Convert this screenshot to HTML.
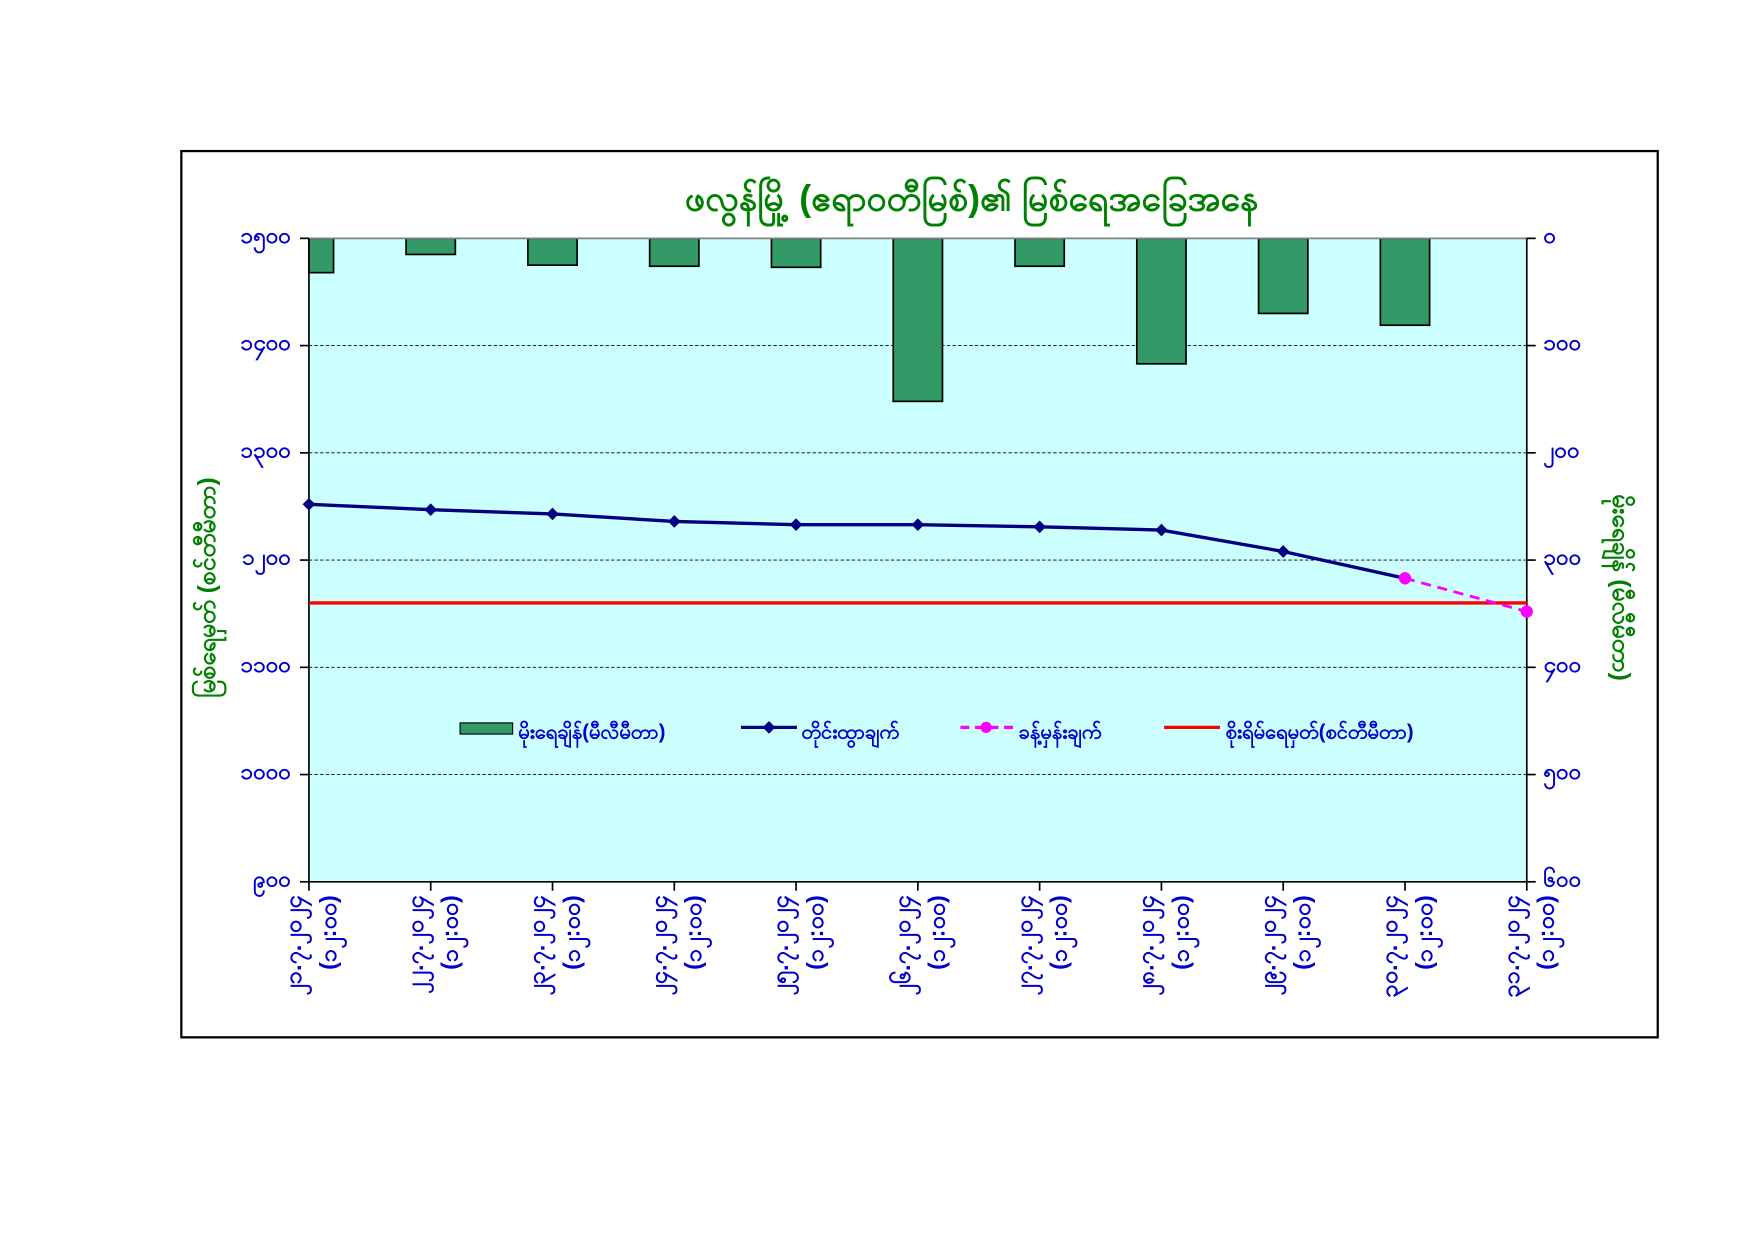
<!DOCTYPE html>
<html><head><meta charset="utf-8"><style>
html,body{margin:0;padding:0;background:#fff;}
svg{display:block;}
text{font-family:"Liberation Sans","Noto Sans CJK SC",sans-serif;}
</style></head><body>
<svg id="chart" width="1754" height="1241" viewBox="0 0 1567 1109" preserveAspectRatio="none" xmlns="http://www.w3.org/2000/svg">
<rect x="162" y="135" width="1319" height="792" fill="#fff" stroke="#000" stroke-width="2"/>
<rect x="276" y="213" width="1088" height="575" fill="#ccffff"/>
<g id="grid"></g>
<g id="bars"></g>
<g id="axes"></g>
<g id="lines"></g>
<text x="868" y="188" text-anchor="middle" font-size="32" font-weight="bold" fill="#008000">ဖလွန်မြို့ (ဧရာဝတီမြစ်)၏ မြစ်ရေအခြေအနေ</text>
<text transform="translate(192,525) rotate(-90)" text-anchor="middle" font-size="22" font-weight="bold" fill="#008000">မြစ်ရေမှတ် (စင်တီမီတာ)</text>
<text transform="translate(1441,525) rotate(90)" text-anchor="middle" font-size="22" font-weight="bold" fill="#008000">မိုးရေချိန် (မီလီမီတာ)</text>
<g font-size="18" font-weight="bold" fill="#0000cc">
<rect x="411" y="646" width="47" height="10" fill="#339966" stroke="#000"/>
<text x="463" y="660">မိုးရေချိန်(မီလီမီတာ)</text>
<line x1="662" y1="650" x2="712" y2="650" stroke="#000080" stroke-width="3"/>
<rect x="683" y="646" width="8" height="8" fill="#000080" transform="rotate(45 687 650)"/>
<text x="716" y="660">တိုင်းထွာချက်</text>
<line x1="858" y1="650" x2="905" y2="650" stroke="#ff00ff" stroke-width="3" stroke-dasharray="8,5"/>
<circle cx="881" cy="650" r="5" fill="#ff00ff"/>
<text x="910" y="660">ခန့်မှန်းချက်</text>
<line x1="1040" y1="650" x2="1090" y2="650" stroke="#ff0000" stroke-width="3"/>
<text x="1095" y="660">စိုးရိမ်ရေမှတ်(စင်တီမီတာ)</text>
</g>
</svg>
<script>
const categories = ["၂၁.၇.၂၀၂၄","၂၂.၇.၂၀၂၄","၂၃.၇.၂၀၂၄","၂၄.၇.၂၀၂၄","၂၅.၇.၂၀၂၄","၂၆.၇.၂၀၂၄","၂၇.၇.၂၀၂၄","၂၈.၇.၂၀၂၄","၂၉.၇.၂၀၂၄","၃၀.၇.၂၀၂၄","၃၁.၇.၂၀၂၄"];
const timeLabel = "(၁၂:၀၀)";
const rainfall = [32,15,25,26,27,152,26,117,70,81];
const waterLevel = [1252,1247,1243,1236,1233,1233,1231,1228,1208,1183];
const forecast = [null,null,null,null,null,null,null,null,null,1183,1152];
const warningLevel = 1160;
const leftTicks = [900,1000,1100,1200,1300,1400,1500];
const leftTickLabels = ["၉၀၀","၁၀၀၀","၁၁၀၀","၁၂၀၀","၁၃၀၀","၁၄၀၀","၁၅၀၀"];
const rightTicks = [0,100,200,300,400,500,600];
const rightTickLabels = ["၀","၁၀၀","၂၀၀","၃၀၀","၄၀၀","၅၀၀","၆၀၀"];

const NS="http://www.w3.org/2000/svg";
const PL=276,PR=1364,PT=213,PB=788;
const yL=v=>PB-(v-900)/600*(PB-PT);
const yR=v=>PT+v/600*(PB-PT);
const xC=i=>PL+i*(PR-PL)/(categories.length-1);
function mk(tag,attrs,parent){const e=document.createElementNS(NS,tag);for(const k in attrs)e.setAttribute(k,attrs[k]);parent.appendChild(e);return e;}
const gridG=document.getElementById('grid'),barsG=document.getElementById('bars'),axesG=document.getElementById('axes'),linesG=document.getElementById('lines');

leftTicks.forEach((v,i)=>{
  const y=yL(v);
  if(v>900&&v<1500){const g=mk('line',{x1:PL,x2:PR,y1:y,y2:y,stroke:'#000','stroke-width':0.8,'stroke-dasharray':'3,2'},gridG);
  
  }
  const t=mk('line',{x1:PL-8,x2:PL,y1:y,y2:y,stroke:'#000','stroke-width':1.5},axesG);
  
  
  const l=mk('text',{x:260,y:y+4,'text-anchor':'end','font-size':20,'font-weight':'bold',fill:'#0000cc'},axesG);
  l.textContent=leftTickLabels[i];
  
  
});
rightTicks.forEach((v,i)=>{
  const y=yR(v);
  const t=mk('line',{x1:PR,x2:PR+8,y1:y,y2:y,stroke:'#000','stroke-width':1.5},axesG);
  
  
  const l=mk('text',{x:1379,y:y+4,'font-size':20,'font-weight':'bold',fill:'#0000cc'},axesG);
  l.textContent=rightTickLabels[i];
  
  
});
const plotTop=mk('line',{x1:PL,x2:PR,y1:PT,y2:PT,stroke:'#808080','stroke-width':1.5},axesG);



rainfall.forEach((v,i)=>{
  const cx=xC(i),w=44;let x=cx-w/2,ww=w;
  if(x<PL){ww=x+w-PL;x=PL;}
  const b=mk('rect',{x:x,y:PT,width:ww,height:yR(v)-PT,fill:'#339966',stroke:'#000','stroke-width':1.5},barsG);
  
  
});

[['left-axis',PL,PT,PL,PB],['right-axis',PR,PT,PR,PB],['x-axis',PL,PB,PR,PB]].forEach(a=>{
  const l=mk('line',{x1:a[1],y1:a[2],x2:a[3],y2:a[4],stroke:'#000','stroke-width':1.5},axesG);
  
  
});
categories.forEach((c,i)=>{
  const x=xC(i);
  const t=mk('line',{x1:x,x2:x,y1:PB,y2:PB+8,stroke:'#000','stroke-width':1.5},axesG);
  
  
  const g=mk('text',{transform:`translate(${x-7},800) rotate(-90)`,'text-anchor':'end','font-size':21,'font-weight':'bold',fill:'#0000cc'},axesG);
  
  
  const s1=mk('tspan',{x:0,y:0},g);s1.textContent=c;
  const s2=mk('tspan',{x:0,y:31},g);s2.textContent=timeLabel;
});

const wl=mk('line',{x1:PL,x2:PR,y1:yL(warningLevel),y2:yL(warningLevel),stroke:'#ff0000','stroke-width':3},linesG);



const fpts=forecast.map((v,i)=>v==null?null:[xC(i),yL(v)]).filter(p=>p);
const fp=mk('polyline',{points:fpts.map(p=>p.join(',')).join(' '),fill:'none',stroke:'#ff00ff','stroke-width':2.5,'stroke-dasharray':'9,6'},linesG);



const pts=waterLevel.map((v,i)=>[xC(i),yL(v)]);
const pl=mk('polyline',{points:pts.map(p=>p.join(',')).join(' '),fill:'none',stroke:'#000080','stroke-width':3},linesG);


pts.forEach(p=>{
  const m=mk('rect',{x:p[0]-4,y:p[1]-4,width:8,height:8,fill:'#000080',transform:`rotate(45 ${p[0]} ${p[1]})`},linesG);
  
  
});
fpts.forEach(p=>{
  const m=mk('circle',{cx:p[0],cy:p[1],r:5.5,fill:'#ff00ff'},linesG);
  
  
});
</script>
</body></html>
